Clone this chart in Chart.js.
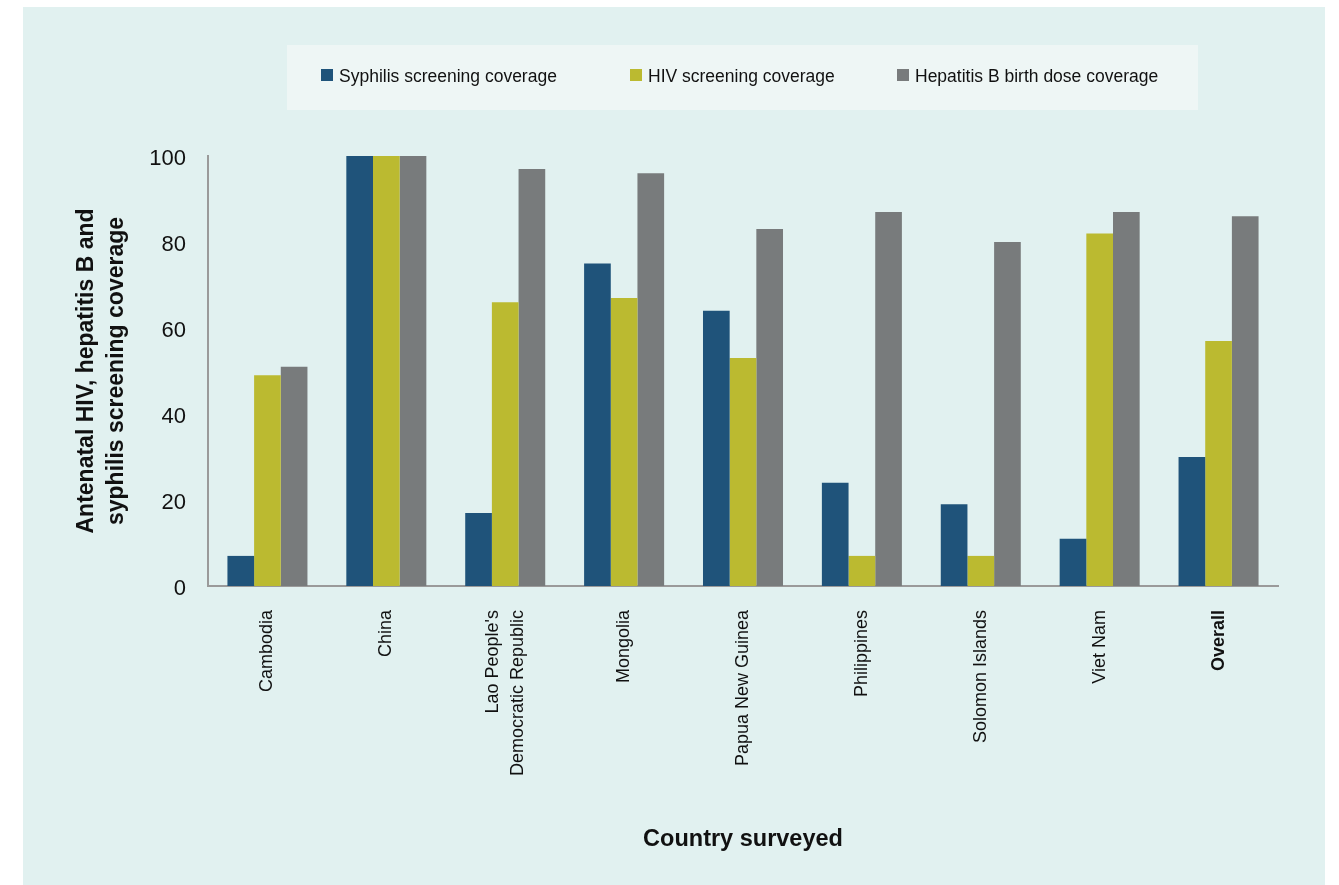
<!DOCTYPE html>
<html>
<head>
<meta charset="utf-8">
<style>
  html, body { margin: 0; padding: 0; background: #ffffff; }
  #wrap { position: relative; width: 1339px; height: 885px; }
  canvas { display: block; }
</style>
<script src="https://cdn.jsdelivr.net/npm/chart.js@4/dist/chart.umd.min.js"></script>
</head>
<body>
<div id="wrap"><canvas id="c" width="1339" height="885"></canvas></div>
<script>
const categories = [
  "Cambodia",
  "China",
  ["Lao People's", "Democratic Republic"],
  "Mongolia",
  "Papua New Guinea",
  "Philippines",
  "Solomon Islands",
  "Viet Nam",
  "Overall"
];
const syphilisCoverage = [7, 100, 17, 75, 64, 24, 19, 11, 30];
const hivCoverage      = [49, 100, 66, 67, 53, 7, 7, 82, 57];
const hepBCoverage     = [51, 100, 97, 96, 83, 87, 80, 87, 86];
const yTicks = [0, 20, 40, 60, 80, 100];
const seriesLabels = ["Syphilis screening coverage", "HIV screening coverage", "Hepatitis B birth dose coverage"];
const seriesColors = ["#1F537A", "#BBBA30", "#787B7C"];

const FONT = "'Liberation Sans', Arial, Helvetica, sans-serif";

const backgroundPlugin = {
  id: 'panelBg',
  beforeDraw(chart) {
    const ctx = chart.ctx;
    ctx.save();
    ctx.fillStyle = '#ffffff';
    ctx.fillRect(0, 0, chart.width, chart.height);
    ctx.fillStyle = '#E1F1F0';
    ctx.fillRect(23, 7, 1302, 878);
    ctx.fillStyle = '#EEF6F5';
    ctx.fillRect(287, 45, 911, 65);
    ctx.restore();
    // centre multi-line rotated category labels on their tick
    const xs = chart.scales.x;
    const items = xs.getLabelItems(chart.chartArea);
    items.forEach(it => {
      if (Array.isArray(it.label) && !it._centred) {
        it.options.translation[0] -= (it.label.length - 1) * it.font.lineHeight / 2;
        it._centred = true;
      }
    });
  },
  afterDraw(chart) {
    const ctx = chart.ctx;
    const starts = [321, 630, 897];
    ctx.save();
    ctx.font = "17.5px " + FONT;
    ctx.textBaseline = 'middle';
    ctx.textAlign = 'left';
    chart.data.datasets.forEach((ds, i) => {
      ctx.fillStyle = ds.backgroundColor;
      ctx.fillRect(starts[i], 69, 12, 12);
      ctx.fillStyle = '#111111';
      ctx.fillText(ds.label, starts[i] + 18, 77);
    });
    ctx.restore();
  }
};

new Chart(document.getElementById('c'), {
  type: 'bar',
  data: {
    labels: categories,
    datasets: [
      { label: seriesLabels[0], data: syphilisCoverage, backgroundColor: seriesColors[0] },
      { label: seriesLabels[1], data: hivCoverage, backgroundColor: seriesColors[1] },
      { label: seriesLabels[2], data: hepBCoverage, backgroundColor: seriesColors[2] }
    ]
  },
  options: {
    responsive: false,
    animation: false,
    devicePixelRatio: 1,
    layout: { padding: { top: 156, right: 61, left: 0, bottom: 0 } },
    datasets: { bar: { categoryPercentage: 0.673, barPercentage: 1.0, borderWidth: 0 } },
    plugins: {
      legend: { display: false },
      tooltip: { enabled: false },
      title: { display: false }
    },
    scales: {
      x: {
        grid: { display: false, drawTicks: false },
        border: { display: true, color: '#9A9A9A', width: 2 },
        ticks: {
          color: '#111111',
          minRotation: 90,
          maxRotation: 90,
          autoSkip: false,
          padding: 24,
          font: (ctx) => ({ family: FONT, size: 18, weight: ctx.index === categories.length - 1 ? 'bold' : 'normal', lineHeight: 1.39 })
        },
        title: {
          display: true,
          text: 'Country surveyed',
          color: '#111111',
          font: { family: FONT, size: 23.5, weight: 'bold', lineHeight: 1.2 },
          padding: { top: 0, bottom: 31 }
        },
        afterFit(scale) { scale.height = 299; }
      },
      y: {
        min: 0,
        max: 100,
        afterBuildTicks(scale) { scale.ticks = yTicks.map(v => ({ value: v })); },
        grid: { display: false, drawTicks: false },
        border: { display: true, color: '#9A9A9A', width: 2 },
        ticks: {
          color: '#111111',
          padding: 22,
          labelOffset: 3,
          font: { family: FONT, size: 22 }
        },
        title: {
          display: true,
          text: ['Antenatal HIV, hepatitis B and', 'syphilis screening coverage'],
          color: '#111111',
          font: { family: FONT, size: 23, weight: 'bold', lineHeight: 1.3 },
          padding: { top: 72, bottom: 0 }
        },
        afterFit(scale) { scale.width = 208; }
      }
    }
  },
  plugins: [backgroundPlugin]
});
</script>
</body>
</html>
